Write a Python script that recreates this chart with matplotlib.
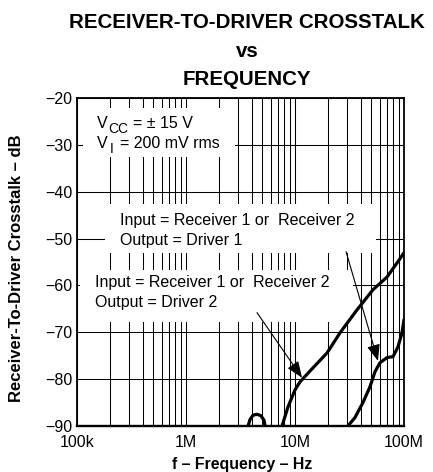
import numpy as np
import matplotlib
matplotlib.use("Agg")
import matplotlib.pyplot as plt
from matplotlib.patches import Rectangle
from matplotlib.ticker import FixedLocator, FixedFormatter, LogLocator, NullFormatter

plt.rcParams['font.family'] = ['Liberation Sans', 'DejaVu Sans']

# Driver 2 output (noise-floor bump near 4 MHz, then main rise from ~7.6 MHz)
driver2_freq_hz = [3.71e6, 3.87e6, 4.12e6, 4.48e6, 4.87e6, 5.20e6, 5.31e6, np.nan,
                   7.6e6, 8.63e6, 10.0e6, 11.1e6, 14.6e6, 19.7e6, 25.9e6, 37.1e6,
                   52.0e6, 69.9e6, 91.9e6, 100e6]
driver2_db = [-90, -88.6, -87.7, -87.5, -87.8, -88.8, -90, np.nan,
              -90, -85.9, -82.3, -80.6, -77.6, -74.4, -70.1, -65.2,
              -60.9, -58.2, -54.3, -53.0]

# Driver 1 output
driver1_freq_hz = [30.6e6, 35.5e6, 42.0e6, 48.8e6, 54.2e6, 60.2e6, 69.9e6, 79.3e6,
                   88.1e6, 95.9e6, 100e6]
driver1_db = [-90, -88.2, -85.0, -81.6, -78.4, -76.5, -75.4, -75.2, -73.1, -70.1, -67.3]

# Callout arrows: (label end, curve point)
arrow_driver1 = ((29.4e6, -52.8), (57.7e6, -76.1))
arrow_driver2 = ((4.48e6, -65.8), (11.6e6, -79.7))

x_ticks = [1e5, 1e6, 1e7, 1e8]
x_tick_labels = ['100k', '1M', '10M', '100M']
y_ticks = [-20, -30, -40, -50, -60, -70, -80, -90]
y_tick_labels = ['\u221220', '\u221230', '\u221240', '\u221250', '\u221260',
                 '\u221270', '\u221280', '\u221290']

W, H = 433, 472
fig = plt.figure(figsize=(W / 100, H / 100), dpi=100)
ax = fig.add_axes([77 / W, 46 / H, 327 / W, 328 / H])

ax.set_xscale('log')
ax.set_xlim(1e5, 1e8)
ax.set_ylim(-90, -20)

ax.xaxis.set_major_locator(FixedLocator(x_ticks))
ax.xaxis.set_major_formatter(FixedFormatter(x_tick_labels))
ax.xaxis.set_minor_locator(LogLocator(base=10, subs=np.arange(2, 10)))
ax.xaxis.set_minor_formatter(NullFormatter())
ax.yaxis.set_major_locator(FixedLocator(y_ticks))
ax.yaxis.set_major_formatter(FixedFormatter(y_tick_labels))

ax.tick_params(axis='both', which='both', length=0, labelsize=11.5, colors='black')
ax.tick_params(axis='x', pad=6.5)
ax.tick_params(axis='y', pad=3.6)

ax.set_axisbelow(True)
ax.grid(True, which='both', axis='x', color='black', lw=0.75)
ax.grid(True, which='major', axis='y', color='black', lw=0.75)

for side in ['left', 'top', 'right']:
    ax.spines[side].set_linewidth(1.3)
ax.spines['bottom'].set_linewidth(1.7)

# White panels behind the annotation text interrupt the grid
for (x0, x1, y0, y1) in [(0.018, 0.484, 0.820, 0.970),
                         (0.086, 0.914, 0.527, 0.677),
                         (0.009, 0.844, 0.317, 0.476)]:
    ax.add_patch(Rectangle((x0, y0), x1 - x0, y1 - y0, transform=ax.transAxes,
                           facecolor='white', edgecolor='none', zorder=1))

ax.plot(driver2_freq_hz, driver2_db, color='black', lw=2.3, zorder=3,
        solid_capstyle='round', solid_joinstyle='round')
ax.plot(driver1_freq_hz, driver1_db, color='black', lw=2.3, zorder=3,
        solid_capstyle='round', solid_joinstyle='round')

for start, tip in (arrow_driver1, arrow_driver2):
    ax.annotate('', xy=tip, xytext=start, zorder=4,
                arrowprops=dict(arrowstyle='-|>,head_length=0.5,head_width=0.2',
                                lw=0.8, color='black', shrinkA=0, shrinkB=0,
                                mutation_scale=20))

fs = 11.5
tkw = dict(transform=ax.transAxes, fontsize=fs, va='baseline', ha='left', zorder=5)
# Supply conditions
ax.text(0.061, 0.909, 'V', **tkw)
ax.text(0.095, 0.893, 'CC', **{**tkw, 'fontsize': 10})
ax.text(0.171, 0.909, '= \u00b1 15 V', **tkw)
ax.text(0.061, 0.848, 'V', **tkw)
ax.text(0.101, 0.832, 'I', **{**tkw, 'fontsize': 10})
ax.text(0.1315, 0.848, '= 200 mV rms', **tkw)

# Curve labels
ax.text(0.1315, 0.613, 'Input = Receiver 1 or  Receiver 2', **tkw)
ax.text(0.1315, 0.552, 'Output = Driver 1', **tkw)
ax.text(0.055, 0.424, 'Input = Receiver 1 or  Receiver 2', **tkw)
ax.text(0.055, 0.363, 'Output = Driver 2', **tkw)

# Title and axis labels
title_lines = ['RECEIVER-TO-DRIVER CROSSTALK', 'vs', 'FREQUENCY']
for line, yb in zip(title_lines, [28, 57, 85]):
    fig.text(247 / W, 1 - yb / H, line, ha='center', va='baseline',
             fontsize=14.8, fontweight='bold')

fig.text(17 / W, 1 - 268 / H, 'Receiver-To-Driver Crosstalk \u2013 dB', rotation=90,
         ha='center', va='center', fontsize=12, fontweight='bold')
fig.text(242 / W, 3.5 / H, 'f \u2013 Frequency \u2013 Hz', ha='center', va='baseline',
         fontsize=11.4, fontweight='bold')

fig.savefig('out.png', dpi=100)
